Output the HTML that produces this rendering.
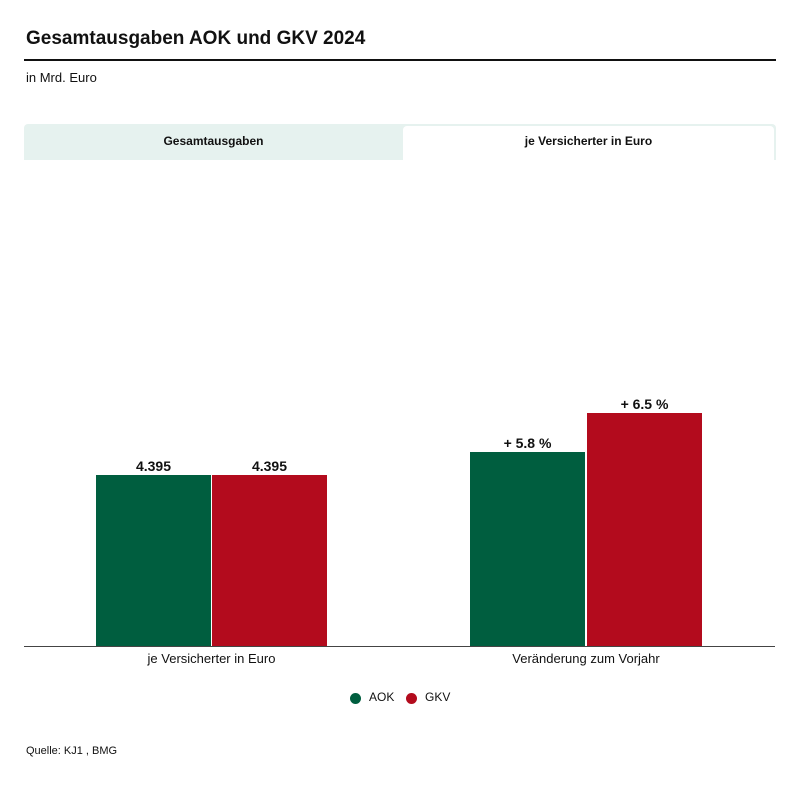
<!DOCTYPE html><html><head><meta charset="utf-8"><style>
body{margin:0;width:800px;height:786px;background:#fff;font-family:"Liberation Sans",sans-serif;color:#111;position:relative;overflow:hidden}
.a{position:absolute}
</style></head><body>
<div class="a" style="left:26px;top:28px;font-size:19px;font-weight:bold">Gesamtausgaben AOK und GKV 2024</div>
<div class="a" style="left:24px;top:59px;width:752px;height:2px;background:#111"></div>
<div class="a" style="left:26px;top:70px;font-size:13px">in Mrd. Euro</div>
<div class="a" style="left:24px;top:124px;width:752px;height:36px;background:#e6f2ef;border-radius:4px 4px 0 0"></div>
<div class="a" style="left:24px;top:124px;width:379px;height:36px;line-height:34px;text-align:center;font-size:12px;font-weight:bold">Gesamtausgaben</div>
<div class="a" style="left:403px;top:126px;width:371px;height:34px;background:#fff;border-radius:4px 4px 0 0;line-height:30px;text-align:center;font-size:12px;font-weight:bold">je Versicherter in Euro</div>
<div class="a" style="left:96px;top:475px;width:115px;height:171px;background:#005e3f"></div>
<div class="a" style="left:212px;top:475px;width:115px;height:171px;background:#b30b1d"></div>
<div class="a" style="left:470px;top:452px;width:115px;height:194px;background:#005e3f"></div>
<div class="a" style="left:587px;top:413px;width:115px;height:233px;background:#b30b1d"></div>
<div class="a" style="left:96px;top:458px;width:115px;text-align:center;font-size:14px;font-weight:bold">4.395</div>
<div class="a" style="left:212px;top:458px;width:115px;text-align:center;font-size:14px;font-weight:bold">4.395</div>
<div class="a" style="left:470px;top:435px;width:115px;text-align:center;font-size:14px;font-weight:bold">+ 5.8 %</div>
<div class="a" style="left:587px;top:396px;width:115px;text-align:center;font-size:14px;font-weight:bold">+ 6.5 %</div>
<div class="a" style="left:24px;top:646px;width:751px;height:1px;background:#444"></div>
<div class="a" style="left:96px;top:651px;width:231px;text-align:center;font-size:13px">je Versicherter in Euro</div>
<div class="a" style="left:470px;top:651px;width:232px;text-align:center;font-size:13px">Veränderung zum Vorjahr</div>
<div class="a" style="left:350px;top:693px;width:11px;height:11px;border-radius:50%;background:#005e3f"></div>
<div class="a" style="left:369px;top:690px;font-size:12px">AOK</div>
<div class="a" style="left:406px;top:693px;width:11px;height:11px;border-radius:50%;background:#b30b1d"></div>
<div class="a" style="left:425px;top:690px;font-size:12px">GKV</div>
<div class="a" style="left:26px;top:745px;font-size:11px">Quelle: KJ1 , BMG</div>
</body></html>
